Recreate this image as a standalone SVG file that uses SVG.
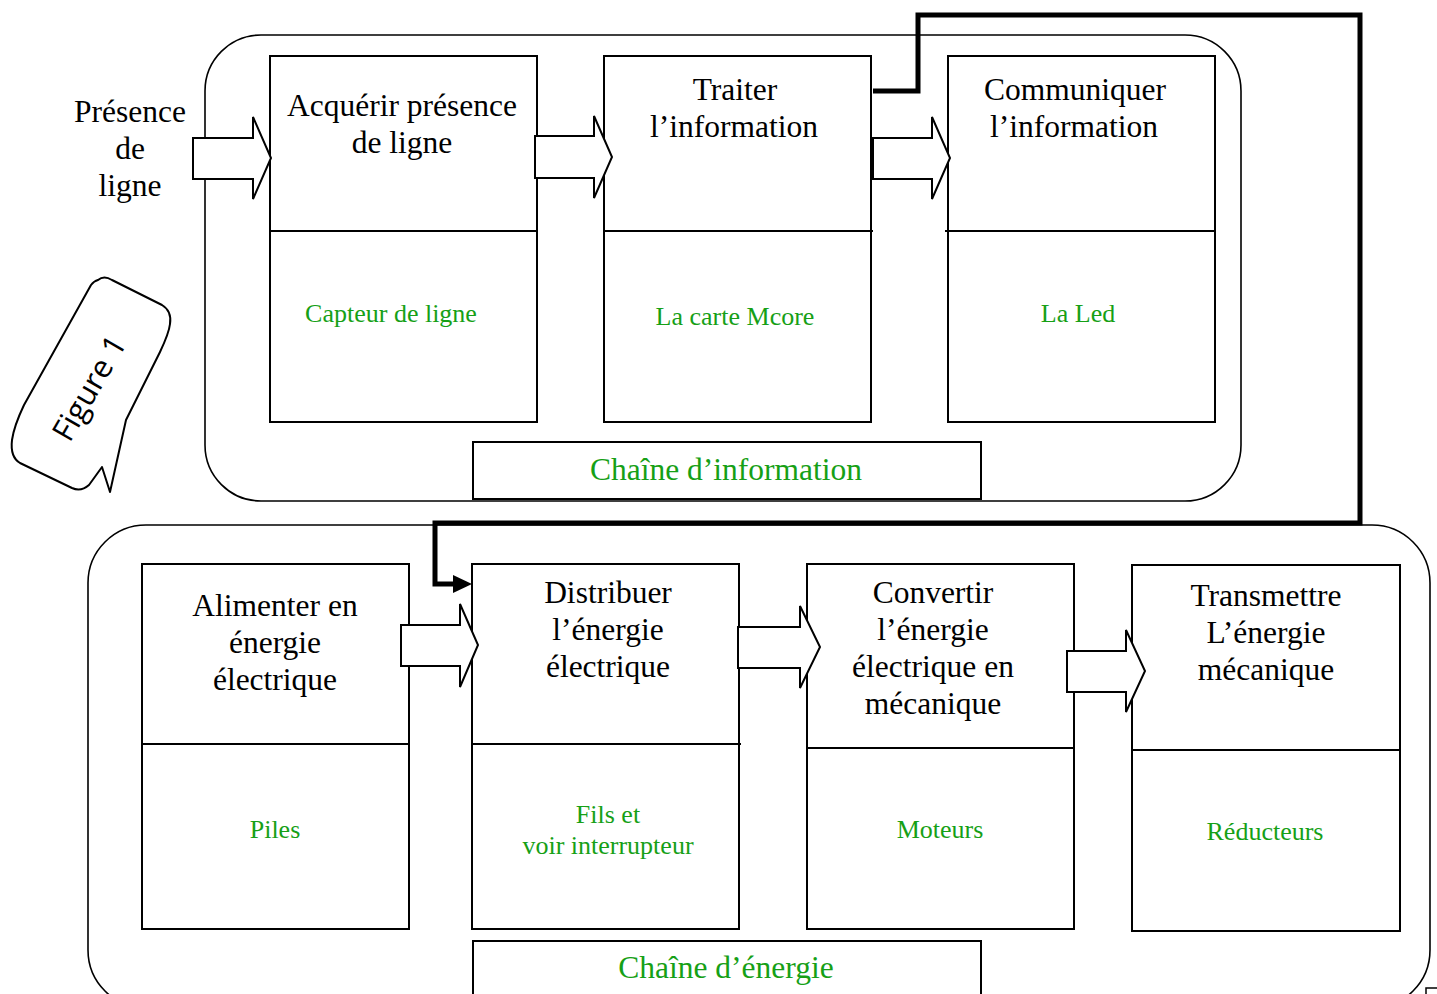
<svg xmlns="http://www.w3.org/2000/svg" width="1437" height="994" viewBox="0 0 1437 994">
<defs>
<style>
.box{fill:#fff;stroke:#000;stroke-width:2}
.cont{fill:none;stroke:#000;stroke-width:1.6}
.div{stroke:#000;stroke-width:2}
.blk{fill:#fff;stroke:#000;stroke-width:2;stroke-linejoin:miter}
.t{font-family:"Liberation Serif","Times New Roman",serif;font-size:31.5px;fill:#000;text-anchor:middle}
.g{font-family:"Liberation Serif","Times New Roman",serif;font-size:26px;fill:#16a016;text-anchor:middle}
.gl{font-family:"Liberation Serif","Times New Roman",serif;font-size:31.5px;fill:#16a016;text-anchor:middle}
.conn{fill:none;stroke:#000;stroke-width:5;stroke-linejoin:miter}
</style>
</defs>
<rect width="1437" height="994" fill="#fff"/>

<g id="containers">
<rect class="cont" x="205" y="35" width="1036" height="466" rx="56" ry="56"/>
<rect class="cont" x="88" y="525" width="1342" height="483" rx="58" ry="58"/>
<path d="M1426,994 L1426,988 L1437,988" fill="none" stroke="#000" stroke-width="1.5"/>
</g>

<g id="connectors">
<path class="conn" d="M873,91 L918,91 L918,15 L1360,15 L1360,523 L435,523 L435,584 L456,584"/>
<polygon points="453,575 472,584 453,593" fill="#000"/>
</g>

<g id="input-label">
<text class="t" x="130" y="122">Présence</text>
<text class="t" x="130" y="159">de</text>
<text class="t" x="130" y="196">ligne</text>
</g>

<g id="node-acquerir">
<rect class="box" x="270" y="56" width="267" height="366"/>
<line class="div" x1="270" y1="231" x2="538" y2="231"/>
<text class="t" x="402" y="116">Acquérir présence</text>
<text class="t" x="402" y="153">de ligne</text>
<text class="g" x="391" y="322">Capteur de ligne</text>
</g>

<g id="node-traiter">
<rect class="box" x="604" y="56" width="267" height="366"/>
<line class="div" x1="604" y1="231" x2="873" y2="231"/>
<text class="t" x="735" y="100">Traiter</text>
<text class="t" x="734" y="137">l’information</text>
<text class="g" x="735" y="325">La carte Mcore</text>
</g>

<g id="node-communiquer">
<rect class="box" x="948" y="56" width="267" height="366"/>
<line class="div" x1="945" y1="231" x2="1215" y2="231"/>
<text class="t" x="1075" y="100">Communiquer</text>
<text class="t" x="1074" y="137">l’information</text>
<text class="g" x="1078" y="322">La Led</text>
</g>

<g id="label-info">
<rect class="box" x="473" y="442" width="508" height="57"/>
<text class="gl" x="726" y="480">Chaîne d’information</text>
</g>

<g id="node-alimenter">
<rect class="box" x="142" y="564" width="267" height="365"/>
<line class="div" x1="142" y1="744" x2="409" y2="744"/>
<text class="t" x="275" y="616">Alimenter en</text>
<text class="t" x="275" y="653">énergie</text>
<text class="t" x="275" y="690">électrique</text>
<text class="g" x="275" y="838">Piles</text>
</g>

<g id="node-distribuer">
<rect class="box" x="472" y="564" width="267" height="365"/>
<line class="div" x1="472" y1="744" x2="741" y2="744"/>
<text class="t" x="608" y="603">Distribuer</text>
<text class="t" x="608" y="640">l’énergie</text>
<text class="t" x="608" y="677">électrique</text>
<text class="g" x="608" y="823">Fils et</text>
<text class="g" x="608" y="854">voir interrupteur</text>
</g>

<g id="node-convertir">
<rect class="box" x="807" y="564" width="267" height="365"/>
<line class="div" x1="807" y1="748" x2="1074" y2="748"/>
<text class="t" x="933" y="603">Convertir</text>
<text class="t" x="933" y="640">l’énergie</text>
<text class="t" x="933" y="677">électrique en</text>
<text class="t" x="933" y="714">mécanique</text>
<text class="g" x="940" y="838">Moteurs</text>
</g>

<g id="node-transmettre">
<rect class="box" x="1132" y="565" width="268" height="366"/>
<line class="div" x1="1132" y1="750" x2="1400" y2="750"/>
<text class="t" x="1266" y="606">Transmettre</text>
<text class="t" x="1266" y="643">L’énergie</text>
<text class="t" x="1266" y="680">mécanique</text>
<text class="g" x="1265" y="840">Réducteurs</text>
</g>

<g id="label-energie">
<rect class="box" x="473" y="941" width="508" height="80"/>
<text class="gl" x="726" y="978">Chaîne d’énergie</text>
</g>

<g id="arrows">
<polygon class="blk" points="193,138 253,138 253,117 271,158 253,199 253,179 193,179"/>
<polygon class="blk" points="535,136 594,136 594,116 612,157 594,198 594,178 535,178"/>
<polygon class="blk" points="873,138 932,138 932,117 950,158 932,199 932,179 873,179"/>
<polygon class="blk" points="401,625 460,625 460,604 478,645 460,687 460,666 401,666"/>
<polygon class="blk" points="738,627 800,627 800,606 820,647 800,688 800,668 738,668"/>
<polygon class="blk" points="1067,651 1126,651 1126,630 1145,671 1126,712 1126,692 1067,692"/>
</g>

<g id="figure-callout">
<path d="M98,280 Q104,275 112,280 L162,305 Q172,311 170,324 Q169,333 160,352 L126,420 L110,492 L102,467 L89,485 Q81,492 72,488 L20,463 Q10,457 12,440 Q14,426 24,405 L91,285 Q94,281 98,280 Z" fill="#fff" stroke="#000" stroke-width="2" stroke-linejoin="round"/>
<text transform="translate(89,388) rotate(-60)" x="0" y="11" font-family="'Open Sans','Noto Sans',sans-serif" font-size="31" text-anchor="middle" fill="#000">Figure 1</text>
</g>
</svg>
